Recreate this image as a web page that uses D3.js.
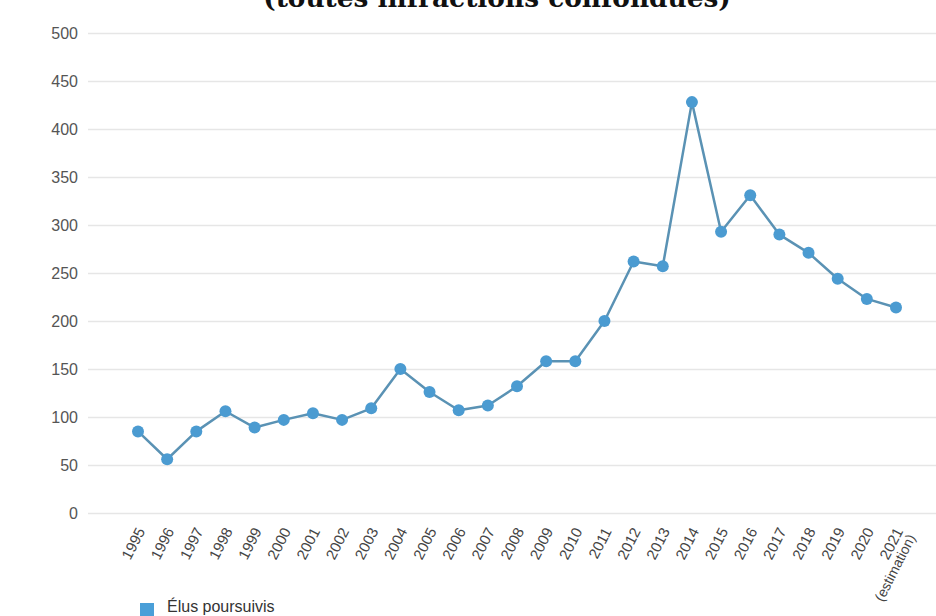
<!DOCTYPE html>
<html>
<head>
<meta charset="utf-8">
<script src="https://cdn.jsdelivr.net/npm/d3@7"></script>
<style>
  html, body { margin: 0; padding: 0; background: #ffffff; }
  svg { display: block; }
</style>
</head>
<body>
<svg id="chart" width="936" height="616"></svg>
<script>
// Number of elected officials prosecuted per year
const years = ["1995", "1996", "1997", "1998", "1999", "2000", "2001", "2002", "2003",
  "2004", "2005", "2006", "2007", "2008", "2009", "2010", "2011", "2012", "2013",
  "2014", "2015", "2016", "2017", "2018", "2019", "2020", "2021"];
const prosecuted = [85, 56, 85, 106, 89, 97, 104, 97, 109,
  150, 126, 107, 112, 132, 158, 158, 200, 262, 257,
  428, 293, 331, 290, 271, 244, 223, 214];
const yTicks = [0, 50, 100, 150, 200, 250, 300, 350, 400, 450, 500];
const estimateYear = "2021";
const estimateNote = "(estimation)";
const seriesName = "Élus poursuivis";
const subtitle = "(toutes infractions confondues)";

const W = 936, H = 616;
const svg = d3.select("#chart");

const x = d3.scalePoint().domain(years).range([138, 896]);
const y = d3.scaleLinear().domain([0, 500]).range([513, 33]);

const gridLeft = 88;

// subtitle line (upper part falls outside the frame)
const title = svg.append("text")
  .attr("x", 497)
  .attr("y", 7)
  .attr("text-anchor", "middle")
  .attr("font-family", "'DejaVu Serif', serif")
  .attr("font-weight", "bold")
  .attr("font-size", 20)
  .attr("fill", "#111")
  .text(subtitle);
const tw = title.node().getComputedTextLength();
title.attr("font-size", 20 * 468 / tw);

// y axis with horizontal gridlines
const yAxis = svg.append("g")
  .attr("transform", `translate(${gridLeft},0)`)
  .call(d3.axisLeft(y).tickValues(yTicks)
    .tickSizeInner(-(W - gridLeft)).tickSizeOuter(0).tickPadding(10));
yAxis.select(".domain").remove();
yAxis.selectAll(".tick line").attr("stroke", "#e6e6e6").attr("stroke-width", 1.5);
yAxis.selectAll(".tick text")
  .attr("font-family", "'Liberation Sans', Arial, sans-serif")
  .attr("font-size", 16)
  .attr("fill", "#555");

// x axis with slanted year labels
const xAxis = svg.append("g")
  .attr("transform", `translate(0,${y(0)})`)
  .call(d3.axisBottom(x).tickSize(0));
xAxis.select(".domain").remove();
xAxis.selectAll(".tick line").remove();
xAxis.selectAll(".tick text")
  .attr("font-family", "'Liberation Sans', Arial, sans-serif")
  .attr("font-size", 15)
  .attr("fill", "#444")
  .attr("text-anchor", "end")
  .attr("x", 0).attr("y", 0).attr("dy", 0)
  .attr("transform", "translate(7,18) rotate(-63)")
  .each(function (d) {
    if (d === estimateYear) {
      const t = d3.select(this);
      t.text(null);
      t.append("tspan").attr("x", 0).attr("dy", 0).text(d);
      t.append("tspan").attr("x", 0).attr("dy", "1.0em").attr("font-size", 14).text(estimateNote);
    }
  });

// series line and markers
const line = d3.line()
  .x((d, i) => x(years[i]))
  .y(d => y(d));

svg.append("path")
  .datum(prosecuted)
  .attr("fill", "none")
  .attr("stroke", "#5a92b4")
  .attr("stroke-width", 2.5)
  .attr("stroke-linejoin", "round")
  .attr("d", line);

svg.append("g")
  .selectAll("circle")
  .data(prosecuted)
  .join("circle")
  .attr("cx", (d, i) => x(years[i]))
  .attr("cy", d => y(d))
  .attr("r", 6)
  .attr("fill", "#4b9bd1");

// legend
const legend = svg.append("g").attr("transform", "translate(140,603)");
legend.append("rect")
  .attr("x", 0).attr("y", 0).attr("width", 14).attr("height", 14)
  .attr("fill", "#4a9fd8");
legend.append("text")
  .attr("x", 27).attr("y", 9)
  .attr("font-family", "'Liberation Sans', Arial, sans-serif")
  .attr("font-size", 16)
  .attr("fill", "#333")
  .text(seriesName);
</script>
</body>
</html>
